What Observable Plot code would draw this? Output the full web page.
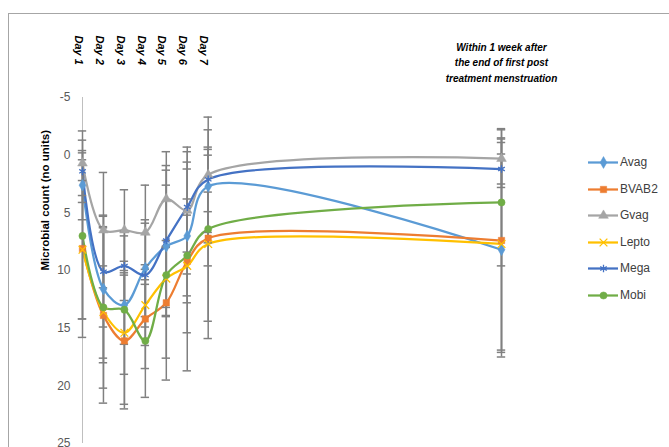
<!DOCTYPE html>
<html><head><meta charset="utf-8">
<script src="https://cdn.jsdelivr.net/npm/d3@7"></script>
<script src="https://cdn.jsdelivr.net/npm/@observablehq/plot@0.6"></script>
<style>
body{margin:0;background:#fff;}
#wrap{position:relative;width:669px;height:447px;overflow:hidden;font-family:"Liberation Sans",Arial,sans-serif;}
#frame{position:absolute;left:8px;top:13px;width:800px;height:600px;border:1px solid #a6a6a6;box-sizing:border-box;}
#chart{position:absolute;left:0;top:0;}
#legend{position:absolute;left:588px;top:0;width:80px;height:447px;}
.lg{position:absolute;left:0;height:20px;display:flex;align-items:center;font-size:12px;color:#404040;}
.lg svg{margin-right:2px;}
</style></head><body>
<div id="wrap"><div id="frame"></div><div id="chart"></div><div id="legend"></div></div>
<script>
// ---- data ----
const dayLabels = ["Day 1","Day 2","Day 3","Day 4","Day 5","Day 6","Day 7"];
const dayValues = [1,2,3,4,5,6,7];
const xValues = [1,2,3,4,5,6,7,21];
const postLabel = "Within 1 week after\nthe end of first post\ntreatment menstruation";
const postX = [21];
const yTicks = [-5,0,5,10,15,20,25];
const yTitle = "Microbial count (no units)";
const seriesNames = ["Avag","BVAB2","Gvag","Lepto","Mega","Mobi"];
const seriesColors = ["#5B9BD5","#ED7D31","#A5A5A5","#FFC000","#4472C4","#70AD47"];

const avag  = [2.6, 11.6, 13.0,  9.8,  7.9, 7.0, 2.7, 8.2];
const bvab2 = [8.1, 13.9, 16.1, 14.2, 12.8, 9.2, 7.2, 7.4];
const gvag  = [0.7,  6.5,  6.5,  6.7,  3.8, 4.8, 1.7, 0.3];
const lepto = [8.2, 13.6, 15.4, 13.0, 10.7, 9.6, 7.7, 7.7];
const mega  = [1.4, 10.1,  9.6, 10.4,  7.4, 4.5, 2.1, 1.2];
const mobi  = [7.0, 13.2, 13.4, 16.1, 10.4, 8.7, 6.4, 4.1];

const avagErr  = [3.0, 6.4, 6.0, 4.2, 5.3, 5.8, 4.9, 9.3];
const bvab2Err = [7.7, 7.6, 5.9, 4.3, 4.8, 9.5, 7.2, 9.7];
const gvagErr  = [2.8, 5.0, 3.5, 4.1, 4.1, 5.5, 5.0, 2.5];
const leptoErr = [6.0, 4.0, 6.2, 3.5, 3.3, 5.8, 8.2, 9.2];
const megaErr  = [2.7, 4.8, 3.0, 4.5, 6.5, 3.9, 2.8, 1.3];
const mobiErr  = [7.2, 7.0, 3.0, 4.9, 9.1, 3.5, 3.2, 5.5];

const seriesValues = [avag,bvab2,gvag,lepto,mega,mobi];
const seriesErrors = [avagErr,bvab2Err,gvagErr,leptoErr,megaErr,mobiErr];
const seriesSymbols = ["diamond","square","triangle","times","asterisk","circle"];
const seriesFilled = [true,true,true,false,false,true];

// ---- build table ----
const rows = [];
seriesNames.forEach((s,k)=>seriesValues[k].forEach((v,i)=>rows.push({series:s,x:xValues[i],y:v,err:seriesErrors[k][i]})));
const days = dayValues.map((d,i)=>({x:d,label:dayLabels[i]}));
const capHalf = 0.2;
const errColor = "#808080";

const marks = [
  Plot.ruleX([1],{stroke:"#bfbfbf",strokeWidth:1}),
  Plot.axisY({ticks:yTicks,tickSize:0,tickPadding:12,fontSize:12,color:"#595959",label:null,tickFormat:d=>String(d)}),
  Plot.line(rows,{x:"x",y:"y",z:"series",stroke:"series",curve:"catmull-rom",strokeWidth:2.25}),
  Plot.ruleX(rows,{x:"x",y1:d=>d.y-d.err,y2:d=>d.y+d.err,stroke:errColor,strokeWidth:1.5}),
  Plot.ruleY(rows,{y:d=>d.y-d.err,x1:d=>d.x-capHalf,x2:d=>d.x+capHalf,stroke:errColor,strokeWidth:1.5}),
  Plot.ruleY(rows,{y:d=>d.y+d.err,x1:d=>d.x-capHalf,x2:d=>d.x+capHalf,stroke:errColor,strokeWidth:1.5}),
];
seriesNames.forEach((s,k)=>{
  const data = rows.filter(d=>d.series===s);
  marks.push(Plot.dot(data,{x:"x",y:"y",symbol:()=>seriesSymbols[k],r:3.6,
    fill: seriesFilled[k]? seriesColors[k] : "none",
    stroke: seriesColors[k], strokeWidth: seriesFilled[k]?0.5:1.3}));
});
marks.push(
  Plot.text(days,{x:"x",text:"label",frameAnchor:"top",dy:-62,rotate:90,textAnchor:"start",fontSize:11,fontWeight:"bold",fontStyle:"italic",fill:"#000"}),
  Plot.text(postX,{x:d=>d,text:()=>postLabel,frameAnchor:"top",dy:-36,lineAnchor:"middle",lineHeight:1.55,fontSize:10,fontWeight:"bold",fontStyle:"italic",fill:"#000"}),
  Plot.text([yTitle],{text:d=>d,frameAnchor:"left",dx:-37,rotate:-90,fontSize:11.5,fontWeight:"bold",fill:"#000"})
);

const chart = Plot.plot({
  width:669,height:447,
  marginLeft:82,marginRight:168,marginTop:97,marginBottom:4,
  style:{background:"transparent",fontFamily:"Liberation Sans, Arial, sans-serif",overflow:"visible"},
  x:{domain:[1,21],axis:null},
  y:{domain:[-5,25],reverse:true,axis:null},
  color:{domain:seriesNames,range:seriesColors},
  marks
});
document.getElementById("chart").appendChild(chart);

// ---- legend ----
const legend = document.getElementById("legend");
seriesNames.forEach((s,k)=>{
  const div = document.createElement("div");
  div.className="lg";
  div.style.top = (152 + k*26.6) + "px";
  const sw = Plot.plot({
    width:30,height:14,margin:0,
    x:{domain:[0,1],axis:null},y:{domain:[0,1],axis:null},
    style:{background:"transparent",overflow:"visible"},
    marks:[
      Plot.ruleY([0.5],{x1:0,x2:1,stroke:seriesColors[k],strokeWidth:2.25}),
      Plot.dot([0.5],{x:d=>d,y:0.5,symbol:()=>seriesSymbols[k],r:3.6,
        fill: seriesFilled[k]? seriesColors[k] : "none",
        stroke: seriesColors[k], strokeWidth: seriesFilled[k]?0.5:1.3})
    ]
  });
  div.appendChild(sw);
  const t = document.createElement("span");
  t.textContent = s;
  div.appendChild(t);
  legend.appendChild(div);
});
</script>
</body></html>
